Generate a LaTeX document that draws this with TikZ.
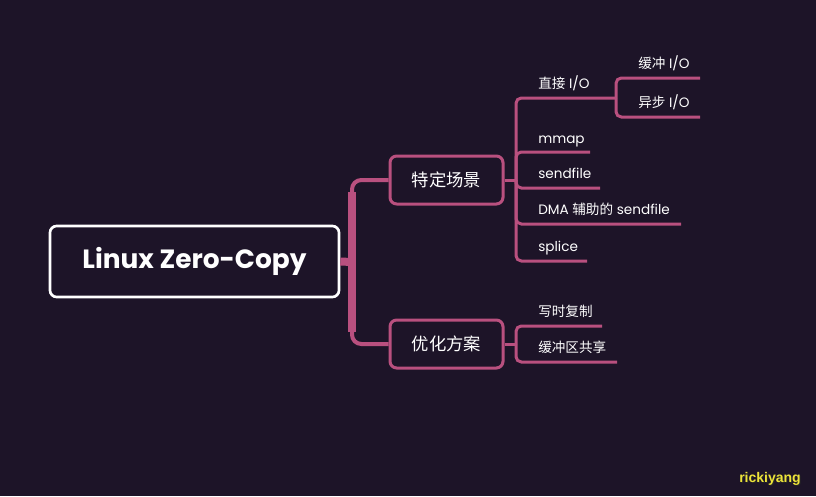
\documentclass[tikz,border=0pt]{standalone}
\usepackage{fontspec}
\setmainfont{Poppins}
\newfontfamily\cjk{Noto Sans CJK SC}
\newfontfamily\wmfont{Liberation Sans}
\definecolor{bg}{HTML}{1D1428}
\definecolor{pinkline}{HTML}{B9507F}
\definecolor{wmyellow}{HTML}{EDE33A}
\begin{document}
\begin{tikzpicture}[x=0.75pt,y=-0.75pt,
  branch/.style={draw=pinkline,line width=2.25pt,rounded corners=4pt},
  mainbranch/.style={draw=pinkline,line width=3pt,rounded corners=7pt},
  leaf/.style={anchor=base west,text=white,font=\fontsize{10.2}{12}\selectfont,inner sep=0pt},
  topicbox/.style={draw=pinkline,line width=2.25pt,rounded corners=5pt,minimum width=84.75pt,minimum height=36pt,text=white,font=\cjk\fontsize{13}{16}\selectfont},
  rootbox/.style={draw=white,line width=2pt,rounded corners=5pt,minimum width=216.75pt,minimum height=53.25pt,text=white,font=\fontsize{19.8}{24}\selectfont\bfseries}]
\fill[bg] (0,0) rectangle (816,496);
\useasboundingbox (0,0) rectangle (816,496);

% root and main topics
\node[rootbox] (root) at (194.5,261.5) {Linux Zero-Copy};
\node[topicbox] (b1) at (446.5,180) {特定场景};
\node[topicbox] (b2) at (446.5,344) {优化方案};

% root connectors
\coordinate (rj) at (352,262);
\draw[pinkline,line width=6pt] (root.east) -- (rj);
\draw[mainbranch] (rj) |- (b1.west);
\draw[mainbranch] (rj) |- (b2.west);
\draw[pinkline,line width=5.5pt] (352,192) -- (352,332);

% branches of 特定场景
\coordinate (j1) at (516,180);
\coordinate (u1) at (616,98);
\coordinate (u2) at (590,152);
\coordinate (u3) at (600,188);
\coordinate (u4) at (681,224);
\coordinate (u5) at (587,261);
\draw[branch] (b1.east) -- (j1);
\foreach \u in {u1,u2,u3,u4,u5} \draw[branch] (j1) |- (\u);

\node[leaf] (t1) at (538,88) {{\cjk 直接} I/O};
\node[leaf] (t2) at (538,143) {mmap};
\node[leaf] (t3) at (538,178.5) {sendfile};
\node[leaf] (t4) at (538,214.5) {DMA {\cjk 辅助的} sendfile};
\node[leaf] (t5) at (538,251) {splice};

% branches of 直接 I/O
\coordinate (v1) at (700,78);
\coordinate (v2) at (700,117);
\draw[branch] (u1) |- (v1);
\draw[branch] (u1) |- (v2);
\node[leaf] (s1) at (638,68.5) {{\cjk 缓冲} I/O};
\node[leaf] (s2) at (638,107.5) {{\cjk 异步} I/O};

% branches of 优化方案
\coordinate (j2) at (516,344);
\coordinate (w1) at (602,326);
\coordinate (w2) at (617,362);
\draw[branch] (b2.east) -- (j2);
\draw[branch] (j2) |- (w1);
\draw[branch] (j2) |- (w2);
\node[leaf,font=\cjk\fontsize{10.2}{12}\selectfont] (p1) at (538,316) {写时复制};
\node[leaf,font=\cjk\fontsize{10.2}{12}\selectfont] (p2) at (538,352) {缓冲区共享};

% watermark
\node[text=black!85,font=\wmfont\bfseries\fontsize{10.5}{12}\selectfont] at (771,480) {rickiyang};
\node[text=wmyellow,font=\wmfont\bfseries\fontsize{10.5}{12}\selectfont] (wm) at (770,479) {rickiyang};
\end{tikzpicture}
\end{document}
